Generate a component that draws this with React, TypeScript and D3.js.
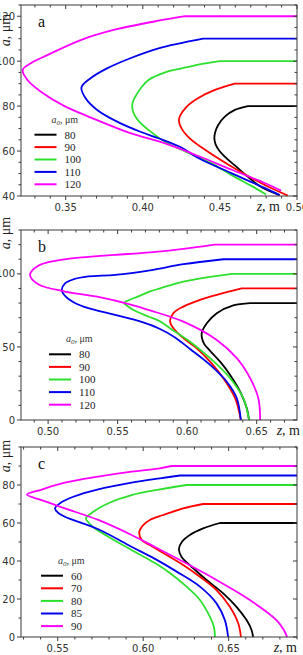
import React from 'react';
import * as d3 from 'd3';

type Pt = [number, number];

// Colours used for the five a0 series of every panel
const seriesColors = ['#000000', '#ff0000', '#2ee02e', '#0000ee', '#ff00ff'];

// ---------- Panel a ----------
const a0A = [80, 90, 100, 110, 120];
const curveA80: Pt[] = [[0.4682, 80], [0.4597, 78.3], [0.4532, 75.3], [0.4489, 71.6], [0.4469, 68.3], [0.4464, 65.8], [0.4472, 63.0], [0.45, 59.8], [0.454, 57.0], [0.4597, 53.6], [0.4682, 48.5], [0.4768, 44.0], [0.4887, 40.4]];
const curveA90: Pt[] = [[0.4597, 90], [0.4468, 87.2], [0.436, 83.6], [0.4282, 79.6], [0.4241, 75.6], [0.4234, 73.5], [0.4252, 70.0], [0.4308, 65.4], [0.4392, 61.1], [0.4553, 54.0], [0.4682, 48.9], [0.4811, 44.2], [0.494, 40.2]];
const curveA100: Pt[] = [[0.45, 100], [0.436, 98.5], [0.4252, 96.8], [0.4145, 95.0], [0.4037, 91.6], [0.3994, 88.6], [0.3957, 84.9], [0.3938, 82.4], [0.3931, 80.0], [0.3937, 77.5], [0.3955, 75.0], [0.3979, 72.9], [0.4037, 69.4], [0.4145, 64.0], [0.4274, 59.8], [0.4446, 54.5], [0.4575, 49.3], [0.4704, 44.5], [0.48, 40.7]];
const curveA110: Pt[] = [[0.4392, 110], [0.4102, 105.7], [0.3919, 101.3], [0.3768, 96.8], [0.3661, 92.4], [0.3602, 88.3], [0.3629, 83.5], [0.3704, 78.3], [0.3833, 73.1], [0.3984, 68.6], [0.4102, 65.7], [0.425, 61.6], [0.436, 56.9], [0.4573, 50.2], [0.479, 43.6], [0.4887, 40.4]];
const curveA120: Pt[] = [[0.4274, 120], [0.4102, 118.0], [0.3811, 113.9], [0.3597, 109.4], [0.3381, 102.7], [0.3274, 99.1], [0.3221, 96.1], [0.3252, 91.6], [0.3339, 86.4], [0.3489, 80.1], [0.3704, 73.8], [0.3919, 68.0], [0.4145, 63.4], [0.436, 57.8], [0.4573, 51.8], [0.479, 45.8], [0.4897, 42.4]];
const zTicksA = [0.35, 0.4, 0.45, 0.5];
const aTicksA = [40, 60, 80, 100, 120];

// ---------- Panel b ----------
const a0B = [80, 90, 100, 110, 120];
const curveB80: Pt[] = [[0.6452, 80], [0.6332, 78.4], [0.6213, 73.1], [0.6141, 66.2], [0.6107, 60.3], [0.6105, 56.8], [0.6122, 52.1], [0.6165, 47.3], [0.6237, 39.9], [0.6309, 30.8], [0.6381, 19.4], [0.6429, 8.0], [0.6445, 0]];
const curveB90: Pt[] = [[0.6393, 90], [0.6213, 85.6], [0.6093, 82.2], [0.5973, 77.6], [0.5901, 73.1], [0.5877, 67.3], [0.5901, 62.8], [0.5973, 56.0], [0.6069, 49.1], [0.6165, 39.9], [0.626, 28.6], [0.6345, 14.9], [0.6386, 0]];
const curveB100: Pt[] = [[0.6321, 100], [0.5973, 94.7], [0.5805, 90.1], [0.5733, 88.0], [0.5649, 84.6], [0.5575, 81.8], [0.5546, 80.1], [0.5575, 77.7], [0.5625, 74.7], [0.5721, 70.8], [0.5805, 67.5], [0.5877, 62.8], [0.6021, 53.6], [0.6165, 42.3], [0.6309, 28.6], [0.6404, 14.9], [0.6445, 0]];
const curveB110: Pt[] = [[0.626, 110], [0.5973, 106.6], [0.5733, 102.4], [0.5481, 99.3], [0.5289, 98.2], [0.5181, 96.2], [0.5122, 93.5], [0.5098, 89.0], [0.5129, 84.2], [0.5193, 80.1], [0.5289, 76.5], [0.5481, 71.9], [0.5673, 67.1], [0.5805, 62.3], [0.5913, 56.5], [0.6021, 48.6], [0.6165, 37.7], [0.6285, 26.2], [0.6357, 14.9], [0.6386, 0]];
const curveB120: Pt[] = [[0.6194, 120], [0.5973, 117.1], [0.5733, 114.7], [0.5481, 113.0], [0.5242, 111.3], [0.505, 108.9], [0.4929, 105.5], [0.487, 99.3], [0.4929, 92.9], [0.5122, 87.9], [0.5361, 84.2], [0.5601, 78.8], [0.5733, 75.0], [0.5973, 67.3], [0.6213, 54.8], [0.6357, 42.3], [0.6453, 28.6], [0.6512, 14.9], [0.6525, 0]];
const zTicksB = [0.5, 0.55, 0.6, 0.65];
const aTicksB = [0, 50, 100];

// ---------- Panel c ----------
const a0C = [60, 70, 80, 85, 90];
const curveC60: Pt[] = [[0.6449, 60], [0.6351, 57.2], [0.6273, 53.7], [0.6226, 50.0], [0.6209, 46.3], [0.6225, 42.1], [0.6293, 36.2], [0.6371, 30.0], [0.6468, 23.0], [0.6546, 15.9], [0.6605, 8.9], [0.6634, 3.7], [0.6643, 0]];
const curveC70: Pt[] = [[0.6351, 70], [0.6234, 67.7], [0.6117, 64.2], [0.6039, 61.6], [0.5998, 58.7], [0.5977, 55.3], [0.5991, 51.1], [0.6039, 48.4], [0.6137, 43.2], [0.6234, 37.9], [0.6332, 31.7], [0.6429, 24.7], [0.6507, 15.9], [0.6556, 7.2], [0.6572, 0]];
const curveC80: Pt[] = [[0.6254, 80], [0.6098, 77.7], [0.5932, 74.7], [0.5796, 70.4], [0.5708, 65.9], [0.5665, 62.5], [0.5683, 60.0], [0.5718, 57.1], [0.5796, 52.8], [0.5932, 45.8], [0.6069, 38.9], [0.6156, 33.7], [0.6254, 26.5], [0.6332, 19.5], [0.639, 10.7], [0.6414, 5.3], [0.642, 0]];
const curveC85: Pt[] = [[0.6215, 85], [0.6098, 83.5], [0.5932, 81.2], [0.5737, 77.7], [0.5591, 73.8], [0.5513, 70.4], [0.5484, 67.7], [0.5501, 65.5], [0.5542, 63.3], [0.5737, 56.7], [0.5932, 47.5], [0.6069, 41.1], [0.6196, 34.4], [0.6332, 26.5], [0.6429, 17.7], [0.6478, 8.9], [0.6497, 0]];
const curveC90: Pt[] = [[0.6166, 90], [0.6098, 88.8], [0.5932, 87.0], [0.5737, 84.4], [0.5542, 81.2], [0.5406, 77.6], [0.532, 75.0], [0.5406, 72.0], [0.5542, 67.7], [0.5737, 61.6], [0.5932, 53.7], [0.6069, 47.4], [0.6234, 39.6], [0.6429, 30.0], [0.6624, 19.5], [0.678, 8.9], [0.6823, 3.7], [0.6842, 0]];
const zTicksC = [0.55, 0.6, 0.65];
const aTicksC = [0, 20, 40, 60, 80];

const SANS = '"DejaVu Sans", sans-serif';
const SERIF = '"Liberation Serif", "Times New Roman", serif';
const AXIS = '#3a3a3a';

interface PanelProps {
  letter: string;
  box: { left: number; right: number; top: number; bottom: number };
  zDomain: [number, number];
  aDomain: [number, number];
  zTicks: number[];
  zMinor: number;
  aTicks: number[];
  aMinor: number;
  a0: number[];
  curves: Pt[][];
  legend: { x: number; y: number; step: number };
  yTitleY: number;
  xTitleEnd: number;
}

function Panel(p: PanelProps) {
  const { box } = p;
  const x = d3.scaleLinear().domain(p.zDomain).range([box.left, box.right]);
  const y = d3.scaleLinear().domain(p.aDomain).range([box.bottom, box.top]);
  const eps = 1e-9;
  const zMinor = d3
    .range(Math.ceil(p.zDomain[0] / p.zMinor) * p.zMinor, p.zDomain[1] + eps, p.zMinor)
    .filter((v) => !p.zTicks.some((t) => Math.abs(t - v) < 1e-6));
  const aMinor = d3
    .range(Math.ceil(p.aDomain[0] / p.aMinor) * p.aMinor, p.aDomain[1] + eps, p.aMinor)
    .filter((v) => !p.aTicks.some((t) => Math.abs(t - v) < 1e-6));

  const line = d3
    .line<Pt>()
    .x((d) => x(d[0]))
    .y((d) => y(d[1]))
    .curve(d3.curveCatmullRom.alpha(0.5));

  // horizontal run at a0 from the right edge, then the smooth descending branch
  const pathFor = (pts: Pt[], a0: number) => {
    const body = line(pts) || '';
    return `M${box.right},${y(a0)}L${body.slice(1)}`;
  };

  const majorLen = 4;
  const minorLen = 2.5;

  return (
    <g>
      {p.curves.map((pts, i) => (
        <path
          key={'c' + i}
          d={pathFor(pts, p.a0[i])}
          fill="none"
          stroke={seriesColors[i]}
          strokeWidth={1.8}
          strokeLinejoin="round"
        />
      ))}

      <rect
        x={box.left}
        y={box.top}
        width={box.right - box.left}
        height={box.bottom - box.top}
        fill="none"
        stroke={AXIS}
        strokeWidth={1}
      />

      {p.zTicks.map((t) => (
        <g key={'zt' + t}>
          <line x1={x(t)} x2={x(t)} y1={box.bottom} y2={box.bottom + majorLen} stroke={AXIS} />
          <line x1={x(t)} x2={x(t)} y1={box.top} y2={box.top + majorLen} stroke={AXIS} />
          <text
            x={x(t)}
            y={box.bottom + 14.5}
            textAnchor="middle"
            fontFamily={SANS}
            fontSize={10}
            fill="#333"
          >
            {t.toFixed(2)}
          </text>
        </g>
      ))}
      {zMinor.map((t) => (
        <g key={'zm' + t}>
          <line x1={x(t)} x2={x(t)} y1={box.bottom} y2={box.bottom + minorLen} stroke={AXIS} />
          <line x1={x(t)} x2={x(t)} y1={box.top} y2={box.top + minorLen} stroke={AXIS} />
        </g>
      ))}

      {p.aTicks.map((t) => (
        <g key={'at' + t}>
          <line x1={box.left - majorLen} x2={box.left} y1={y(t)} y2={y(t)} stroke={AXIS} />
          <line x1={box.right - majorLen} x2={box.right} y1={y(t)} y2={y(t)} stroke={AXIS} />
          <text
            x={box.left - 6}
            y={y(t)}
            dy="0.36em"
            textAnchor="end"
            fontFamily={SANS}
            fontSize={10}
            fill="#333"
          >
            {t}
          </text>
        </g>
      ))}
      {aMinor.map((t) => (
        <g key={'am' + t}>
          <line x1={box.left - minorLen} x2={box.left} y1={y(t)} y2={y(t)} stroke={AXIS} />
          <line x1={box.right - minorLen} x2={box.right} y1={y(t)} y2={y(t)} stroke={AXIS} />
        </g>
      ))}

      <text
        transform={`translate(10,${p.yTitleY}) rotate(-90)`}
        textAnchor="middle"
        fontFamily={SERIF}
        fontSize={14}
        fill="#222"
      >
        <tspan fontStyle="italic">a</tspan>, μm
      </text>
      <text
        x={p.xTitleEnd}
        y={box.bottom + 15}
        textAnchor="end"
        fontFamily={SERIF}
        fontSize={14}
        fill="#222"
      >
        <tspan fontStyle="italic">z</tspan>, m
      </text>

      <text x={box.left + 17} y={box.top + 22} fontFamily={SERIF} fontSize={16} fill="#111">
        {p.letter}
      </text>

      <text x={p.legend.x + 17} y={p.legend.y - 12} fontFamily={SERIF} fontSize={10} fill="#333">
        <tspan fontStyle="italic">a</tspan>
        <tspan fontStyle="italic" fontSize={7} dy={2}>
          0
        </tspan>
        <tspan dy={-2}>, μm</tspan>
      </text>
      {p.a0.map((v, i) => {
        const ry = p.legend.y + i * p.legend.step;
        return (
          <g key={'lg' + v}>
            <line
              x1={p.legend.x}
              x2={p.legend.x + 22}
              y1={ry}
              y2={ry}
              stroke={seriesColors[i]}
              strokeWidth={2}
            />
            <text x={p.legend.x + 30} y={ry} dy="0.35em" fontFamily={SERIF} fontSize={11} fill="#222">
              {v}
            </text>
          </g>
        );
      })}
    </g>
  );
}

export default function App() {
  return (
    <svg
      width={303}
      height={655}
      viewBox="0 0 303 655"
      style={{ position: 'absolute', left: 0, top: 0, background: '#fff' }}
    >
      <rect x={0} y={0} width={303} height={655} fill="#fff" />
      <Panel
        letter="a"
        box={{ left: 21, right: 297, top: 5, bottom: 196 }}
        zDomain={[0.321, 0.5]}
        aDomain={[40, 125]}
        zTicks={zTicksA}
        zMinor={0.01}
        aTicks={aTicksA}
        aMinor={5}
        a0={a0A}
        curves={[curveA80, curveA90, curveA100, curveA110, curveA120]}
        legend={{ x: 34.5, y: 134.7, step: 12.4 }}
        yTitleY={30}
        xTitleEnd={280}
      />
      <Panel
        letter="b"
        box={{ left: 21, right: 297, top: 230, bottom: 420 }}
        zDomain={[0.4805, 0.679]}
        aDomain={[0, 130]}
        zTicks={zTicksB}
        zMinor={0.01}
        aTicks={aTicksB}
        aMinor={10}
        a0={a0B}
        curves={[curveB80, curveB90, curveB100, curveB110, curveB120]}
        legend={{ x: 49, y: 354.3, step: 12.6 }}
        yTitleY={233}
        xTitleEnd={300}
      />
      <Panel
        letter="c"
        box={{ left: 21, right: 297, top: 447, bottom: 637 }}
        zDomain={[0.5285, 0.69]}
        aDomain={[0, 100]}
        zTicks={zTicksC}
        zMinor={0.01}
        aTicks={aTicksC}
        aMinor={10}
        a0={a0C}
        curves={[curveC60, curveC70, curveC80, curveC85, curveC90]}
        legend={{ x: 41, y: 575.7, step: 12.6 }}
        yTitleY={456}
        xTitleEnd={297}
      />
    </svg>
  );
}
